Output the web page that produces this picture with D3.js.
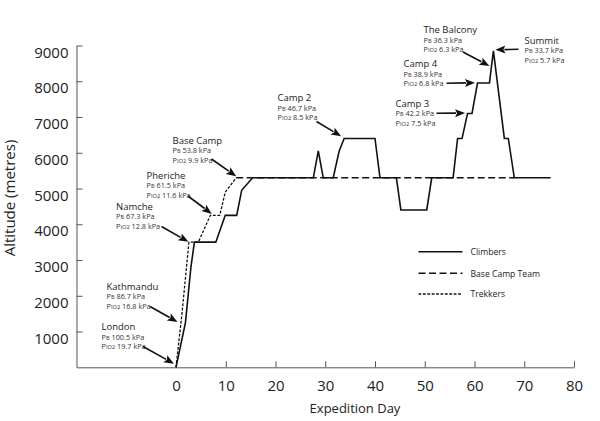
<!DOCTYPE html>
<html><head><meta charset="utf-8">
<script src="https://cdn.jsdelivr.net/npm/d3@7"></script>
<style>
html,body{margin:0;padding:0;background:#fff;}
svg{display:block;font-family:"Open Sans",sans-serif;}
</style></head>
<body>
<svg id="chart" width="600" height="421"></svg>
<script>
// ---------- data ----------
const xTicks = [0,10,20,30,40,50,60,70,80];
const yTicks = [1000,2000,3000,4000,5000,6000,7000,8000,9000];

const climbersDay = [0,1.9,3.0,3.7,8.0,9.9,12.2,13.2,15.4,27.6,28.6,29.6,31.6,32.8,33.8,40.0,41.0,44.3,45.2,50.4,51.4,55.7,56.6,57.5,58.6,59.5,60.6,63.0,63.8,66.0,66.8,68.0,75.3];
const climbersAlt = [0,1250,2800,3500,3500,4250,4250,4950,5300,5300,6050,5300,5300,6050,6400,6400,5300,5300,4400,4400,5300,5300,6400,6400,7100,7100,7950,7950,8850,6400,6400,5300,5300];

const baseCampDay = [12.1,68.0];
const baseCampAlt = [5300,5300];

const trekkersDay = [0,1.2,2.6,4.5,6.9,8.8,9.9,12.1];
const trekkersAlt = [0,1500,3500,3500,4250,4250,4900,5300];

const seriesNames = ["Climbers","Base Camp Team","Trekkers"];

const placeNames = ["London","Kathmandu","Namche","Pheriche","Base Camp","Camp 2","Camp 3","Camp 4","The Balcony","Summit"];
const placePB    = ["100.5","86.7","67.3","61.5","53.8","46.7","42.2","38.9","36.3","33.7"];
const placePIO2  = ["19.7","16.8","12.8","11.6","9.9","8.5","7.5","6.8","6.3","5.7"];
const placeTipDay = [-0.4,0.3,2.5,7.2,12.1,33.2,58.1,60.1,63.0,64.2];
const placeTipAlt = [100,1270,3510,4290,5340,6460,7110,7960,8430,8880];

// ---------- layout ----------
const x = d3.scaleLinear().domain([-20,80]).range([76.5,574]);
const y = d3.scaleLinear().domain([0,9000]).range([367.3,45.5]);

// label layout (text left/baseline, arrow start) in pixels
const labelPos = [
  {tx:101.5, ty:330, ax:143, ay:346.5},
  {tx:106.5, ty:289.5, ax:150, ay:306.5},
  {tx:116, ty:209.5, ax:161.5, ay:226.5},
  {tx:146.5, ty:178.5, ax:188, ay:196},
  {tx:172.5, ty:143.5, ax:211.5, ay:159},
  {tx:277.5, ty:101, ax:316.5, ay:121.5},
  {tx:395.5, ty:106.5, ax:436.5, ay:113.3},
  {tx:403.5, ty:67, ax:446.5, ay:83.3},
  {tx:423.5, ty:33, ax:463, ay:52},
  {tx:524.5, ty:43.5, ax:518.5, ay:49.3}
];

const svg = d3.select("#chart");

// ---------- axes ----------
const axisColor = "#555";
const gx = svg.append("g").attr("transform",`translate(0,${y(0)})`)
  .call(d3.axisBottom(x).tickValues(xTicks).tickSizeInner(-6).tickSizeOuter(0).tickPadding(13).tickFormat(d3.format("d")));
gx.select(".domain").attr("stroke",axisColor);
gx.selectAll(".tick line").attr("stroke",axisColor);
gx.selectAll(".tick text").attr("font-size",15).attr("fill","#222").attr("font-family","Open Sans");

const gy = svg.append("g").attr("transform",`translate(${x(-20)},0)`)
  .call(d3.axisLeft(y).tickValues(yTicks).tickSizeInner(-6).tickSizeOuter(0).tickPadding(8).tickFormat(d3.format("d")));
gy.select(".domain").attr("stroke",axisColor);
gy.selectAll(".tick line").attr("stroke",axisColor);
gy.selectAll(".tick text").attr("font-size",15).attr("fill","#222").attr("font-family","Open Sans").attr("dy","0.78em");

svg.append("text").attr("x",355).attr("y",413).attr("text-anchor","middle")
  .attr("font-size",13).attr("fill","#222").text("Expedition Day");
svg.append("text").attr("transform","translate(15,198) rotate(-90)").attr("text-anchor","middle")
  .attr("font-size",15).attr("fill","#222").text("Altitude (metres)");

// ---------- lines ----------
const line = d3.line().x(d=>x(d[0])).y(d=>y(d[1]));
const styles = [
  {dash:null, w:1.6},
  {dash:"7,3.5", w:1.6},
  {dash:"2.8,1.6", w:1.3}
];
const seriesData = [
  d3.zip(climbersDay, climbersAlt),
  d3.zip(baseCampDay, baseCampAlt),
  d3.zip(trekkersDay, trekkersAlt)
];
[1,2,0].forEach(i=>{
  svg.append("path").datum(seriesData[i]).attr("d",line)
    .attr("fill","none").attr("stroke","#111").attr("stroke-width",styles[i].w)
    .attr("stroke-dasharray",styles[i].dash).attr("stroke-linejoin","miter");
});

// ---------- legend ----------
const legY = [251.7,273.3,294];
seriesNames.forEach((n,i)=>{
  svg.append("line").attr("x1",418.5).attr("x2",462.5).attr("y1",legY[i]).attr("y2",legY[i])
    .attr("stroke","#111").attr("stroke-width",styles[i].w).attr("stroke-dasharray",styles[i].dash);
  svg.append("text").attr("x",470.5).attr("y",legY[i]+3.2).attr("font-size",8.6).attr("fill","#222").text(n);
});

// ---------- annotations ----------
placeNames.forEach((n,i)=>{
  const p = labelPos[i];
  svg.append("text").attr("x",p.tx).attr("y",p.ty).attr("font-size",9.5).attr("fill","#222").text(n);
  const t1 = svg.append("text").attr("x",p.tx).attr("y",p.ty+9.5).attr("font-size",7.3).attr("fill","#333");
  t1.append("tspan").text("P");
  t1.append("tspan").attr("font-size",5.7).text("B");
  t1.append("tspan").text(" " + placePB[i] + " kPa");
  const t2 = svg.append("text").attr("x",p.tx).attr("y",p.ty+19).attr("font-size",7.3).attr("fill","#333");
  t2.append("tspan").text("P");
  t2.append("tspan").attr("font-size",5.7).text("IO");
  t2.append("tspan").attr("font-size",5.7).text("2");
  t2.append("tspan").text(" " + placePIO2[i] + " kPa");

  const tx = x(placeTipDay[i]), ty = y(placeTipAlt[i]);
  const dx = tx - p.ax, dy = ty - p.ay, L = Math.hypot(dx,dy);
  const ux = dx/L, uy = dy/L, head = 10, hw = 4;
  const bx = tx - ux*head, by = ty - uy*head;
  svg.append("line").attr("x1",p.ax).attr("y1",p.ay).attr("x2",bx+ux).attr("y2",by+uy)
    .attr("stroke","#111").attr("stroke-width",1.6);
  svg.append("path").attr("d",`M${tx},${ty}L${bx - uy*hw},${by + ux*hw}L${bx + ux*2},${by + uy*2}L${bx + uy*hw},${by - ux*hw}Z`)
    .attr("fill","#111");
});
</script>
</body></html>
